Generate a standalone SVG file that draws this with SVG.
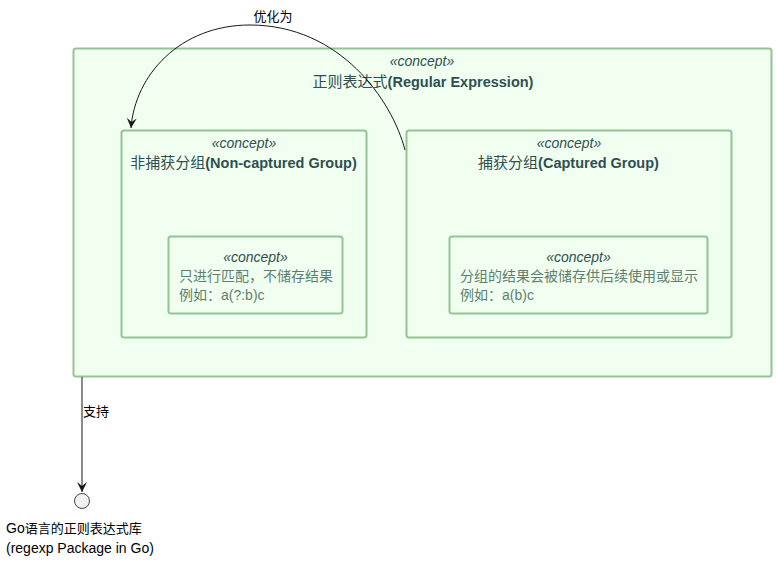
<svg xmlns="http://www.w3.org/2000/svg" width="776" height="561" viewBox="0 0 776 561">
<defs>
<style>
.box{fill:#F1FFF1;stroke:#93C493;stroke-width:2}
text{font-family:"Liberation Sans","Noto Sans CJK SC",sans-serif}
.st{font-size:14px;font-style:italic;fill:#2F4F4F;text-anchor:middle}
.tt{font-size:14.5px;font-weight:bold;fill:#2F4F4F;text-anchor:middle}
.tt .cj{font-size:15px;font-weight:normal}
.nt{font-size:14px;fill:#5E7E6E}
.lb{font-size:14px;fill:#000}
.lb .cj{font-size:13px}
.cn{fill:none;stroke:#181818;stroke-width:1}
</style>
<marker id="ah" markerWidth="12" markerHeight="10" refX="10" refY="5" orient="auto" markerUnits="userSpaceOnUse">
<path d="M10,5 L0,0 L4,5 L0,10 Z" fill="#181818"/>
</marker>
</defs>
<g id="regex">
<rect class="box" x="73.5" y="48.5" width="698" height="328" rx="2.5"/>
<text class="st" x="422" y="66">«concept»</text>
<text class="tt" x="423" y="87"><tspan class="cj">正则表达式</tspan>(Regular Expression)</text>
</g>
<g id="noncaptured">
<rect class="box" x="121.5" y="130.5" width="245" height="207" rx="2.5"/>
<text class="st" x="244" y="148">«concept»</text>
<text class="tt" x="243.5" y="168"><tspan class="cj">非捕获分组</tspan>(Non-captured Group)</text>
</g>
<g id="noncaptured-desc">
<rect class="box" x="168.5" y="236.5" width="174" height="77" rx="2.5"/>
<text class="st" x="255.5" y="262">«concept»</text>
<text class="nt" x="179" y="281">只进行匹配，不储存结果</text>
<text class="nt" x="179" y="300">例如：a(?:b)c</text>
</g>
<g id="captured">
<rect class="box" x="406.5" y="130.5" width="325" height="207" rx="2.5"/>
<text class="st" x="569" y="148">«concept»</text>
<text class="tt" x="568.5" y="168"><tspan class="cj">捕获分组</tspan>(Captured Group)</text>
</g>
<g id="captured-desc">
<rect class="box" x="449.5" y="236.5" width="258" height="77" rx="2.5"/>
<text class="st" x="578.5" y="262">«concept»</text>
<text class="nt" x="460" y="281">分组的结果会被储存供后续使用或显示</text>
<text class="nt" x="460" y="300">例如：a(b)c</text>
</g>
<g id="regexp-pkg">
<circle cx="82" cy="501" r="7.5" fill="#F1F1F1" stroke="#181818" stroke-width="0.8"/>
<text class="lb" x="6" y="533">Go<tspan class="cj">语言的正则表达式库</tspan></text>
<text class="lb" x="6" y="553">(regexp Package in Go)</text>
</g>
<g id="connectors">
<path class="cn" d="M405,150 C392,100 340,25 250,25 C180,25 135,75 131,128" marker-end="url(#ah)"/>
<text class="lb" x="273" y="21" text-anchor="middle"><tspan class="cj">优化为</tspan></text>
<path class="cn" d="M82,377 L82,492" marker-end="url(#ah)"/>
<text class="lb" x="83" y="416"><tspan class="cj">支持</tspan></text>
</g>
</svg>
